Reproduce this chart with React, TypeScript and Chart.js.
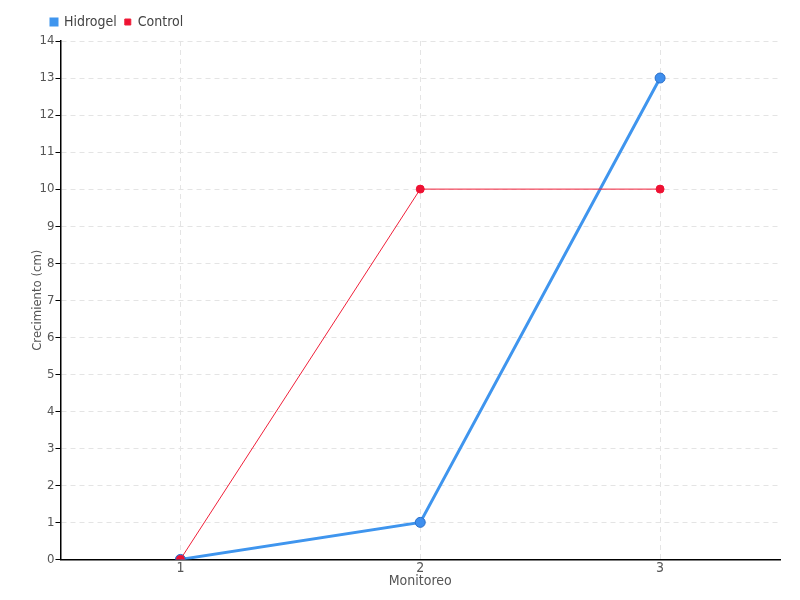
import React, { useEffect, useRef } from "react";
import { Chart, registerables } from "chart.js";

Chart.register(...registerables);

const categories = ["1", "2", "3"];
const hidrogel = [0, 1, 13];
const control = [0, 10, 10];
const seriesNames = ["Hidrogel", "Control"];
const xTitle = "Monitoreo";
const yTitle = "Crecimiento (cm)";

const FONT = "'DejaVu Sans Condensed', 'DejaVu Sans', sans-serif";

const legendShift = {
  id: "legendShift",
  afterLayout(chart: any) {
    if (chart.legend) {
      chart.legend.left += 21;
      chart.legend.right += 21;
      chart.legend.top -= 2;
      chart.legend.bottom -= 2;
    }
  },
};

export default function App() {
  const ref = useRef<HTMLCanvasElement | null>(null);
  useEffect(() => {
    if (!ref.current) return;
    const chart = new Chart(ref.current, {
      type: "line",
      plugins: [legendShift],
      data: {
        labels: categories,
        datasets: [
          {
            label: seriesNames[0],
            data: hidrogel,
            borderColor: "#3f95ee",
            backgroundColor: "#3f95ee",
            borderWidth: 3,
            pointRadius: 5,
            pointBackgroundColor: "#3f8fee",
            pointBorderColor: "#2a6fc9",
            pointBorderWidth: 1,
            tension: 0,
            order: 1,
          },
          {
            label: seriesNames[1],
            data: control,
            borderColor: "#f0203a",
            backgroundColor: "#ee1133",
            borderWidth: 1,
            pointRadius: 4,
            pointBackgroundColor: "#ee1133",
            pointBorderColor: "#ee1133",
            pointBorderWidth: 1,
            tension: 0,
            order: 0,
          },
        ],
      },
      options: {
        animation: false,
        responsive: false,
        maintainAspectRatio: false,
        layout: { padding: { left: 22, right: 20, top: 9, bottom: 10 } },
        plugins: {
          legend: {
            position: "top",
            align: "start",
            labels: {
              boxWidth: 6,
              boxHeight: 6,
              padding: 8,
              color: "#444",
              font: { family: FONT, size: 14 },
              sort: (a: any, b: any) => a.datasetIndex - b.datasetIndex,
            },
          },
          tooltip: { enabled: false },
        },
        scales: {
          x: {
            offset: true,
            title: {
              display: true,
              text: xTitle,
              color: "#555",
              font: { family: FONT, size: 14 },
              padding: { top: -5, bottom: 0 },
            },
            ticks: { color: "#555", font: { family: FONT, size: 14 }, padding: 1 },
            grid: {
              color: "#e4e4e4",
              drawTicks: false,
              offset: false,
            },
            border: { color: "#000", width: 1.5, dash: [5, 4] },
          },
          y: {
            min: 0,
            max: 14,
            title: {
              display: true,
              text: yTitle,
              color: "#555",
              font: { family: FONT, size: 13 },
              padding: { top: 8, bottom: -7 },
            },
            ticks: { stepSize: 1, color: "#555", font: { family: FONT, size: 13 }, padding: 1 },
            grid: { color: "#e4e4e4", tickColor: "#000", tickLength: 5, tickBorderDash: [] },
            border: { color: "#000", width: 1.5, dash: [5, 4] },
          },
        },
      },
    });
    return () => chart.destroy();
  }, []);
  return (
    <div style={{ position: "fixed", left: 0, top: 0, width: 800, height: 600, background: "#fff" }}>
      <canvas ref={ref} width={800} height={600} style={{ width: 800, height: 600 }} />
    </div>
  );
}
